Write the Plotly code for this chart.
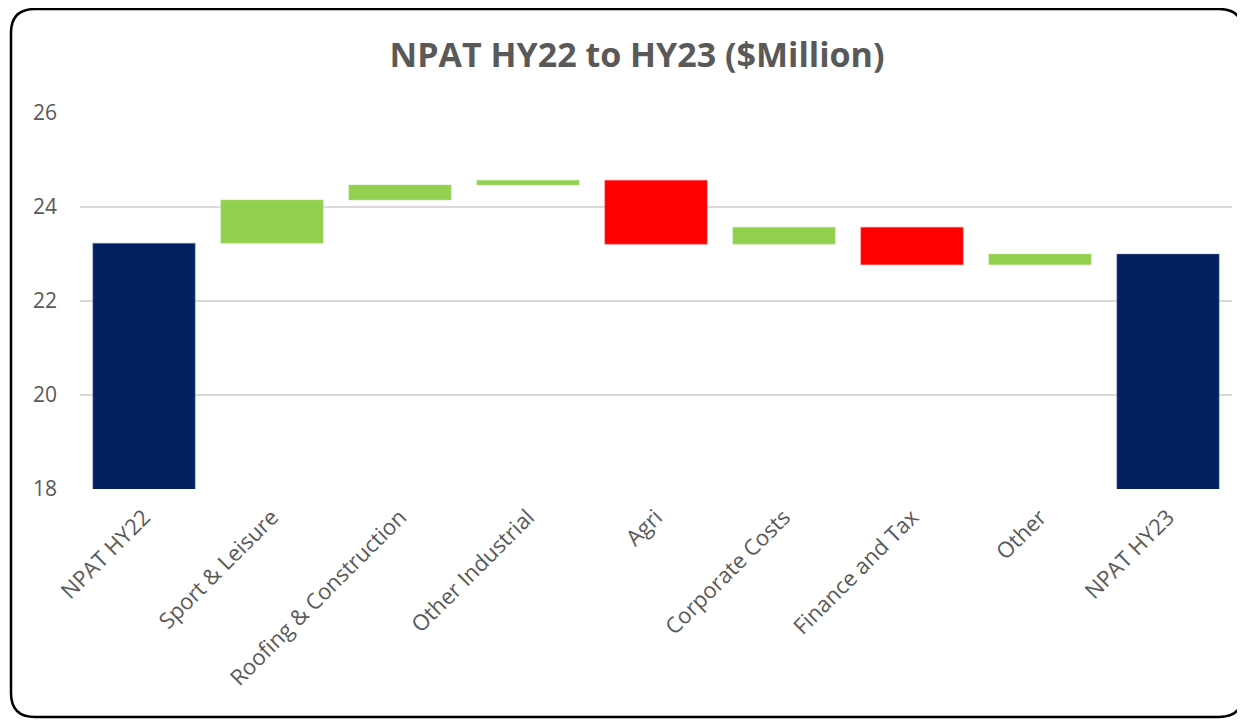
import plotly.graph_objects as go

categories = ["NPAT HY22", "Sport & Leisure", "Roofing & Construction", "Other Industrial",
              "Agri", "Corporate Costs", "Finance and Tax", "Other", "NPAT HY23"]
measures = ["absolute", "relative", "relative", "relative", "relative",
            "relative", "relative", "relative", "total"]
values = [23.23, 0.92, 0.32, 0.10, -1.36, 0.36, -0.80, 0.23, 0]

# the page body adds an 8px margin, so the figure is a bit smaller than the window
W, H = 1237, 712
ML, MR, MT, MB = 72, 13, 105, 231
PW, PH = W - ML - MR, H - MT - MB


def px(x):
    return (x - ML) / PW


def py(y):
    return (H - MB - y) / PH


def rounded_rect(x0, y0, x1, y1, r):
    # path in paper units built from pixel corners
    return (
        f"M {px(x0 + r)} {py(y0)} L {px(x1 - r)} {py(y0)} "
        f"Q {px(x1)} {py(y0)} {px(x1)} {py(y0 + r)} "
        f"L {px(x1)} {py(y1 - r)} Q {px(x1)} {py(y1)} {px(x1 - r)} {py(y1)} "
        f"L {px(x0 + r)} {py(y1)} Q {px(x0)} {py(y1)} {px(x0)} {py(y1 - r)} "
        f"L {px(x0)} {py(y0 + r)} Q {px(x0)} {py(y0)} {px(x0 + r)} {py(y0)} Z"
    )


fig = go.Figure(go.Waterfall(
    x=categories,
    y=values,
    measure=measures,
    increasing=dict(marker=dict(color="#92D050", line=dict(color="#B5E08A", width=0.5))),
    decreasing=dict(marker=dict(color="#FF0000", line=dict(color="#FF6666", width=0.5))),
    totals=dict(marker=dict(color="#002060", line=dict(color="#8497B0", width=0.5))),
    connector=dict(visible=False),
    hovertemplate="<b>%{x}</b><br>%{y:.2f}<extra></extra>",
))

fig.update_layout(
    width=W, height=H,
    margin=dict(l=ML, r=MR, t=MT, b=MB),
    paper_bgcolor="#FFFFFF",
    plot_bgcolor="#FFFFFF",
    font=dict(family="Open Sans, sans-serif", color="#595959"),
    title=dict(
        text="<b>NPAT HY22 to HY23 ($Million)</b>",
        font=dict(size=34, color="#595959"),
        x=629 / W, xanchor="center",
        y=1 - 47 / H, yanchor="middle",
    ),
    bargap=0.22,
    showlegend=False,
    yaxis=dict(
        range=[18, 26],
        dtick=2,
        showgrid=True,
        gridcolor="#D9D9D9",
        gridwidth=1.5,
        zeroline=False,
        tickfont=dict(size=21, color="#595959"),
        ticklabelstandoff=22,
    ),
    xaxis=dict(
        tickangle=-45,
        tickfont=dict(size=22, color="#595959"),
        ticklabelstandoff=10,
        showline=False,
    ),
    shapes=[dict(
        type="path", xref="paper", yref="paper",
        path=rounded_rect(3, 1, 1235, 709, 24),
        line=dict(color="#000000", width=2.5),
        layer="above",
    )],
)

fig.write_html("out.html")
